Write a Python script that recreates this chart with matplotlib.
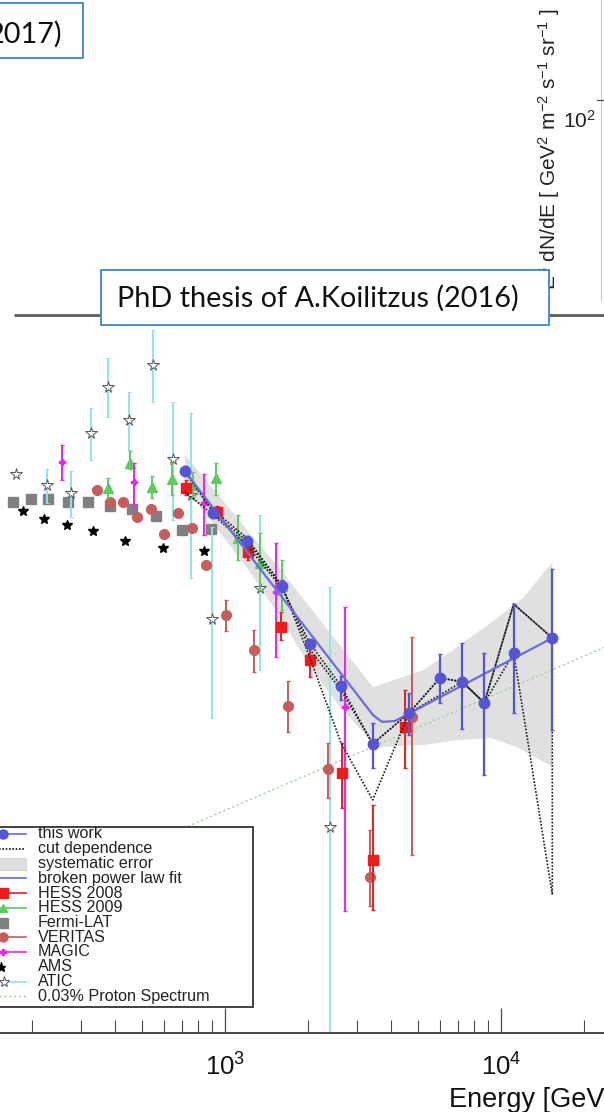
import numpy as np
import matplotlib
matplotlib.use("Agg")
import matplotlib.pyplot as plt
from matplotlib.patches import Rectangle
from matplotlib.ticker import NullFormatter, NullLocator

plt.rcParams['font.family'] = ['Liberation Sans', 'DejaVu Sans']
plt.rcParams['mathtext.fontset'] = 'custom'
plt.rcParams['mathtext.rm'] = 'Liberation Sans'
plt.rcParams['mathtext.it'] = 'Liberation Sans:italic'
plt.rcParams['mathtext.bf'] = 'Liberation Sans:bold'

# ---- electron spectrum, E [GeV] vs E^3 dN/dE [GeV^2 m^-2 s^-1 sr^-1] ----
tw_e  = [716, 907, 1199, 1605, 2038, 2632, 3429, 4653, 6012, 7241, 8702, 11117, 15345]
tw_f  = [161, 125, 105.8, 80.5, 56.6, 43.9, 30.9, 37.3, 46.1, 45.0, 39.6, 53.7, 58.7]
tw_lo = [157, 121.5, 102.5, 77.5, 55.3, 40.3, 26.7, 32.6, 39.6, 33.8, 25.6, 37.3, 33.6]
tw_hi = [166, 129, 108.9, 83.4, 58.0, 46.5, 35.0, 42.1, 53.3, 57.0, 53.7, 72.1, 89.2]

# cut dependence (three alternative selections)
cut_e1 = [716, 907, 1199, 1605, 2038, 2632, 3429, 4653, 6012, 7241, 8702, 11117, 15345]
cut_f1 = [142.2, 123.7, 103.1, 79.5, 56.6, 43.9, 30.9, 37.3, 46.1, 45.0, 39.6, 53.6, 12.4]
cut_e2 = [716, 907, 1199, 1605, 2038, 2632, 3429, 4653, 7241, 8702, 11117, 15345]
cut_f2 = [161, 127.5, 107.6, 80.9, 51.7, 31.1, 22.0, 37.3, 45.0, 39.6, 72.1, 58.7]
cut_e3 = [716, 907, 1199, 1605, 2038, 2632, 3429, 4653, 6012, 7241, 8702, 11117, 15345, 15345]
cut_f3 = [161, 125.2, 105.7, 80.5, 54.6, 42.8, 30.9, 37.3, 46.1, 45.0, 39.6, 72.1, 58.7, 12.4]

# systematic error band
band_e_up = [716, 1609, 3438, 5260, 6928, 9200, 12120, 15345]
band_f_up = [178.0, 87.6, 43.6, 48.4, 55.6, 64.3, 75.3, 93.0]
band_e_dn = [716, 1202, 1609, 2038, 2610, 3553, 5260, 6928, 9200, 11430, 15345]
band_f_dn = [146.5, 89.7, 65.5, 49.2, 38.6, 30.3, 30.7, 31.6, 32.0, 30.3, 26.9]

# broken power law fit
fit_e = [716, 3438, 3706, 4130, 15345]
fit_f = [161, 36.8, 35.3, 35.5, 58.7]

hess08_e  = [720, 935, 1212, 1595, 2038, 2661, 3447, 4500]
hess08_f  = [145.7, 126.0, 98.7, 62.8, 51.4, 25.9, 15.3, 34.2]
hess08_lo = [139.7, 121.5, 94.2, 58.0, 46.3, 20.9, 11.3, 26.7]
hess08_hi = [152.9, 130.8, 103.1, 68.7, 57.0, 31.1, 21.3, 42.8]

hess09_e  = [377, 453, 544, 643, 766, 928, 1115, 1339, 1609]
hess09_f  = [145.7, 169.5, 146.5, 153.9, 148.3, 154.8, 107.6, 92.5, 80.5]
hess09_lo = [137.2, 163, 137.2, 139.7, 138.0, 139.7, 94.2, 78.5, 69.6]
hess09_hi = [154.8, 182, 156.7, 169.5, 160.5, 169.5, 123.7, 110.9, 94.2]

fermi_e = [171, 198, 229, 269, 320, 383, 459, 561, 697, 888]
fermi_f = [134.0, 136.4, 136.1, 134.0, 133.8, 130.8, 128.3, 122.9, 112.9, 113.4]

ver_e  = [343, 383, 428, 479, 539, 603, 677, 761, 851, 1008, 1274, 1687, 2367, 3354, 4771]
ver_f  = [143.9, 134.0, 134.0, 122.4, 128.1, 110.3, 125.0, 114.1, 91.4, 67.5, 54.6, 38.9, 26.5, 13.8, 36.3]
ver_lo = [143.9, 134.0, 134.0, 122.4, 128.1, 110.3, 125.0, 114.1, 91.4, 61.3, 47.8, 33.2, 22.3, 11.6, 15.8]
ver_hi = [143.9, 134.0, 134.0, 122.4, 128.1, 110.3, 125.0, 114.1, 91.4, 73.9, 61.6, 45.3, 31.1, 18.3, 59.1]

magic_e  = [257, 469, 841, 1524, 2721]
magic_f  = [171, 151.3, 132.7, 77.7, 38.7]
magic_lo = [152.9, 130.0, 109.6, 52.3, 11.2]
magic_hi = [189, 169, 159, 104.4, 70.8]

ams_e = [186, 220, 267, 332, 434, 594, 839]
ams_f = [126.7, 120.7, 116.4, 112.3, 105.7, 101.1, 99.6]

atic_e  = [175, 226, 277, 327, 376, 450, 550, 650, 753, 900, 1339, 2401]
atic_f  = [158.6, 148.3, 141.6, 203, 269, 220, 306, 174, 139.7, 65.9, 79.5, 18.7]
atic_lo = [158.6, 132.7, 122.4, 173, 224, 183, 246, 120, 84.4, 36.2, 48.4, 1.0]
atic_hi = [158.6, 163, 161, 237, 320, 261, 379.5, 246, 229, 115.0, 123.7, 80.1]

proton_e = [153, 23620]
proton_f = [11.5, 55.4]

legend_labels = ["this work", "cut dependence", "systematic error", "broken power law fit",
                 "HESS 2008", "HESS 2009", "Fermi-LAT", "VERITAS", "MAGIC", "AMS", "ATIC",
                 "0.03% Proton Spectrum"]

BLUE = '#5454d4'
FIT = '#6b6be0'
RED = '#f21a1a'
GREEN = '#5ccc5c'
GREY = '#808080'
VER = '#c75c5c'
MAG = '#f020f0'
CYAN = '#8ee6e6'
PROT = '#9ccf9c'

W, H = 604, 1112
fig = plt.figure(figsize=(W / 100, H / 100), dpi=100)


def px_box(x0, y0, x1, y1):
    # pixel box (y counted from the top) -> figure fraction rect
    return [x0 / W, 1 - y1 / H, (x1 - x0) / W, (y1 - y0) / H]


ax = fig.add_axes(px_box(0, 315, W, 1033))
ax.set_xscale('log')
ax.set_yscale('log')
ax.set_xlim(153.0, 23620)
ax.set_ylim(5.36, 415.5)
for s in ('left', 'right', 'top'):
    ax.spines[s].set_visible(False)
ax.spines['bottom'].set_color('#4a4a4a')
ax.spines['bottom'].set_linewidth(1.4)
ax.yaxis.set_major_locator(NullLocator())
ax.yaxis.set_minor_locator(NullLocator())
ax.xaxis.set_minor_formatter(NullFormatter())
ax.tick_params(axis='x', which='major', direction='in', length=18, width=0.9,
               color='#4a4a4a', labelsize=18.5, labelcolor='#111111', pad=15)
ax.tick_params(axis='x', which='minor', direction='in', length=9.5, width=0.8,
               color='#4a4a4a')
ax.patch.set_alpha(0)


def draw_err(e, f, lo, hi, color, marker, ms, mfc=None, mec=None, z=3, lw=1.4, mew=1.0):
    f = np.asarray(f, dtype=float)
    yerr = [f - np.asarray(lo, dtype=float), np.asarray(hi, dtype=float) - f]
    ax.errorbar(e, f, yerr=yerr, fmt=marker, color=color, ms=ms,
                mfc=mfc or color, mec=mec or color, mew=mew, ecolor=color,
                elinewidth=lw, capsize=1.6, capthick=lw, zorder=z)


# systematic band
ax.fill(np.concatenate([band_e_up, band_e_dn[::-1]]),
        np.concatenate([band_f_up, band_f_dn[::-1]]),
        color='#e0e0e0', lw=0, zorder=1)

ax.plot(proton_e, proton_f, color=PROT, lw=1.0, ls=(0, (1.5, 2)), zorder=1.5)

ax.plot(fermi_e, fermi_f, 's', color=GREY, ms=7, zorder=2)
ax.plot(ams_e, ams_f, '*', color='black', ms=7, zorder=2)
draw_err(atic_e, atic_f, atic_lo, atic_hi, CYAN, '*', 8.5, mfc='white', mec='#555555',
         z=2.2, lw=1.4, mew=0.7)
draw_err(ver_e, ver_f, ver_lo, ver_hi, VER, 'o', 7, z=2.4)
draw_err(hess09_e, hess09_f, hess09_lo, hess09_hi, GREEN, '^', 6.5, z=2.5)
draw_err(magic_e, magic_f, magic_lo, magic_hi, MAG, 'P', 5, z=2.6)
draw_err(hess08_e, hess08_f, hess08_lo, hess08_hi, RED, 's', 7, z=2.8)

for ce, cf in ((cut_e1, cut_f1), (cut_e2, cut_f2), (cut_e3, cut_f3)):
    ax.plot(ce, cf, color='#1a1a1a', lw=1.2, ls=(0, (1, 1)), zorder=3.5)

ax.plot(fit_e, fit_f, color=FIT, lw=1.6, zorder=3.8)
draw_err(tw_e, tw_f, tw_lo, tw_hi, BLUE, 'o', 7.5, z=4, lw=1.6)

# ---- slide overlay: titles, boxes, legend (pixel coordinates) ----
ov = fig.add_axes([0, 0, 1, 1])
ov.set_xlim(0, W)
ov.set_ylim(H, 0)
ov.axis('off')
ov.patch.set_alpha(0)

# remains of the upper plot
ov.plot([601, 601], [0, 300], color='#c8c8c8', lw=0.8, zorder=1)
ov.plot([597, 604], [100, 100], color='#555555', lw=0.9, zorder=1)
ov.text(556, 290, r'E$^{3}$ dN/dE [ GeV$^{2}$ m$^{-2}$ s$^{-1}$ sr$^{-1}$ ]',
        rotation=90, rotation_mode='anchor', ha='left', va='baseline',
        fontsize=15, color='#222222', zorder=1)
ov.text(563, 128, r'10$^{2}$', fontsize=15, color='#222222', va='baseline', zorder=1)

# separator line and reference boxes
ov.plot([14, 604], [315, 315], color='#5c5c5c', lw=2.0, zorder=2, solid_capstyle='butt')
ov.add_patch(Rectangle((-10, 3), 93, 55, fc='white', ec='#3a87d0', lw=1.3, zorder=5))
ov.text(62, 43, '2017)', ha='right', va='baseline', fontsize=20.8, family='Lato',
        color='#111111', zorder=6)
ov.add_patch(Rectangle((101, 270), 448, 55, fc='white', ec='#3a87d0', lw=1.3, zorder=5))
ov.text(317.5, 306.7, 'PhD thesis of A.Koilitzus (2016)', ha='center', va='baseline',
        fontsize=20.8, family='Lato', color='#111111', zorder=6)

# axis title
ov.text(449, 1107, 'Energy [GeV]', fontsize=19.5, color='#111111', va='baseline', zorder=2)

# legend
ov.add_patch(Rectangle((-5, 827), 258, 180, fc='white', ec='#333333', lw=1.3, zorder=10))
rows = 834 + 14.75 * np.arange(len(legend_labels))
hx0, hx1, mx = -20, 26, 3
r = rows
ov.plot([hx0, hx1], [r[0], r[0]], color=FIT, lw=1.2, zorder=11)
ov.plot(mx, r[0], 'o', color=BLUE, ms=6.5, zorder=12)
ov.plot([hx0, 25], [r[1], r[1]], color='#1a1a1a', lw=1.2, ls=(0, (1, 1)), zorder=11)
ov.add_patch(Rectangle((hx0, r[2] - 6), hx1 - hx0, 12, fc='#e0e0e0', ec='#cfcfcf',
                       lw=0.6, zorder=11))
ov.plot([hx0, hx1], [r[3], r[3]], color=FIT, lw=1.2, zorder=11)
ov.plot([hx0, hx1], [r[4], r[4]], color=RED, lw=1.2, zorder=11)
ov.plot(mx, r[4], 's', color=RED, ms=6.5, zorder=12)
ov.plot([hx0, hx1], [r[5], r[5]], color=GREEN, lw=1.2, zorder=11)
ov.plot(mx, r[5], '^', color=GREEN, ms=6, zorder=12)
ov.plot(mx, r[6], 's', color=GREY, ms=6.5, zorder=12)
ov.plot([hx0, hx1], [r[7], r[7]], color=VER, lw=1.2, zorder=11)
ov.plot(mx, r[7], 'o', color=VER, ms=6.5, zorder=12)
ov.plot([hx0, hx1], [r[8], r[8]], color=MAG, lw=1.2, zorder=11)
ov.plot(mx, r[8], 'P', color=MAG, ms=5, zorder=12)
ov.plot(1, r[9], '*', color='black', ms=6.5, zorder=12)
ov.plot([4, hx1], [r[10], r[10]], color=CYAN, lw=1.2, zorder=11)
ov.plot(4, r[10], '*', mfc='white', mec='#555555', mew=0.7, ms=8, zorder=12)
ov.plot([-5, hx1], [r[11], r[11]], color=PROT, lw=1.0, ls=(0, (1.5, 2)), zorder=11)
for yy, lab in zip(rows, legend_labels):
    ov.text(37.7, yy, lab, fontsize=11.6, color='#222222', va='center', zorder=12)

fig.savefig('out.png', dpi=100)
